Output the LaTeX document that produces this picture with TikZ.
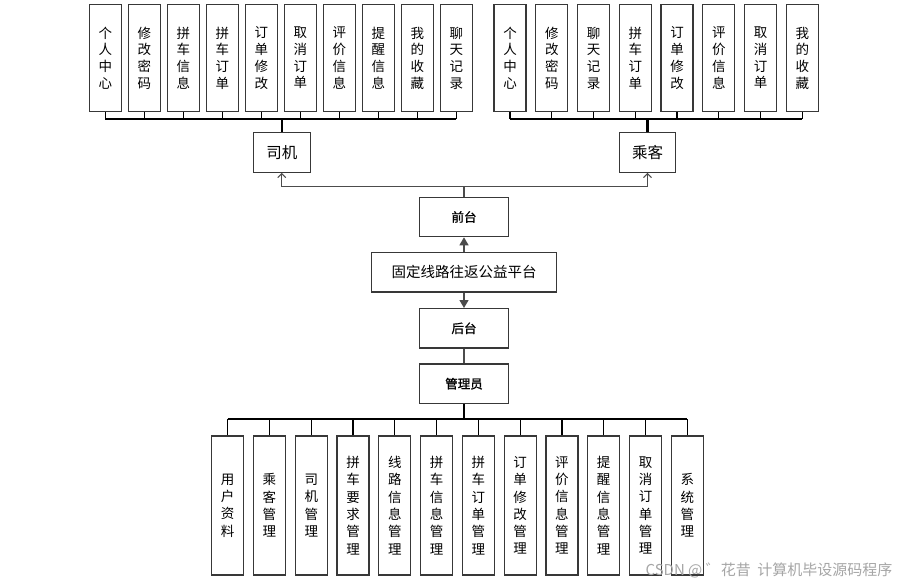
\documentclass[tikz,border=0pt]{standalone}
\usepackage{fontspec}
\setmainfont{Noto Sans CJK SC}
\newfontfamily\semibold[FakeBold=1.2]{Noto Sans CJK SC}
\usetikzlibrary{arrows.meta}
\begin{document}
\begin{tikzpicture}[x=1pt,y=-1pt,
  boxline/.style={draw=black!78, fill=white, line width=1.2pt, inner sep=0pt},
  leaf/.style={boxline, minimum width=32pt, align=center, font=\fontsize{13.5}{16.7}\selectfont},
  topleaf/.style={leaf, minimum height=107.5pt},
  admleaf/.style={leaf, minimum height=139pt, font=\fontsize{13.5}{17.3}\selectfont},
  role/.style={boxline, minimum height=40pt, font=\fontsize{15.5}{18}\selectfont},
  mid/.style={boxline, minimum width=89pt, minimum height=39.4pt, font=\fontsize{12.5}{15}\semibold},
  bus/.style={draw=black, line width=1.3pt},
  trunk/.style={draw=black, line width=2.6pt},
  conn/.style={draw=black!70, line width=1.3pt},
  barb/.style={conn, -{Straight Barb[length=4pt,width=8pt,line width=1pt]}},
  tri/.style={conn, -{Triangle[length=8pt,width=9pt]}}
]
\useasboundingbox (0,0) rectangle (899,585);
\fill[white] (0,0) rectangle (899,585);

% driver children
\foreach \t [count=\i from 0] in {个\\人\\中\\心, 修\\改\\密\\码, 拼\\车\\信\\息, 拼\\车\\订\\单, 订\\单\\修\\改, 取\\消\\订\\单, 评\\价\\信\\息, 提\\醒\\信\\息, 我\\的\\收\\藏, 聊\\天\\记\\录}
  \node[topleaf] (d\i) at ({105.3+39*\i},58) {\t};
% passenger children
\foreach \t [count=\i from 0] in {个\\人\\中\\心, 修\\改\\密\\码, 聊\\天\\记\\录, 拼\\车\\订\\单, 订\\单\\修\\改, 评\\价\\信\\息, 取\\消\\订\\单, 我\\的\\收\\藏}
  \node[topleaf] (p\i) at ({510+41.75*\i},58) {\t};

\coordinate (dbus) at (0,119);
\foreach \i in {0,...,9} \draw[bus] (d\i.south) -- (d\i.south |- dbus);
\foreach \i in {0,...,7} \draw[bus] (p\i.south) -- (p\i.south |- dbus);
\draw[bus] (d0.south |- dbus) -- (d9.south |- dbus);
\draw[bus] (p0.south |- dbus) -- (p7.south |- dbus);

\node[role, minimum width=57pt] (driver) at (281.8,152.3) {司机};
\node[role, minimum width=56.4pt] (pass) at (647.5,152.3) {乘客};
\draw[trunk] (driver.north) -- (driver.north |- dbus);
\draw[trunk] (pass.north) -- (pass.north |- dbus);

\node[mid] (front) at (464,217) {前台};
\node[boxline, minimum width=185pt, minimum height=39.4pt, font=\fontsize{14.5}{17}\selectfont] (plat) at (464,272.3) {固定线路往返公益平台};
\node[mid] (back) at (464,328.3) {后台};
\node[mid] (admin) at (464,383.7) {管理员};

\coordinate (split) at (464,186.7);
\draw[conn] (front.north) -- (split);
\draw[barb] (split) -| (driver.south);
\draw[barb] (split) -| (pass.south);
\draw[tri] (plat.north) -- (front.south);
\draw[tri] (plat.south) -- (back.north);
\draw[conn] (back.south) -- (admin.north);

% admin children
\foreach \t [count=\i from 0] in {用\\户\\资\\料, 乘\\客\\管\\理, 司\\机\\管\\理, 拼\\车\\要\\求\\管\\理, 线\\路\\信\\息\\管\\理, 拼\\车\\信\\息\\管\\理, 拼\\车\\订\\单\\管\\理, 订\\单\\修\\改\\管\\理, 评\\价\\信\\息\\管\\理, 提\\醒\\信\\息\\管\\理, 取\\消\\订\\单\\管\\理, 系\\统\\管\\理}
  \node[admleaf] (a\i) at ({227.7+41.78*\i},505.5) {\t};
\coordinate (abus) at (0,419);
\foreach \i in {0,...,11} \draw[bus] (a\i.north) -- (a\i.north |- abus);
\draw[bus] (a0.north |- abus) -- (a11.north |- abus);
\draw[trunk] (admin.south) -- (admin.south |- abus);

\node[text=black!35, font=\fontsize{15}{18}\selectfont, anchor=east] (wm) at (896,570) {CSDN @ ゛花昔\ \ 计算机毕设源码程序};
\end{tikzpicture}
\end{document}
